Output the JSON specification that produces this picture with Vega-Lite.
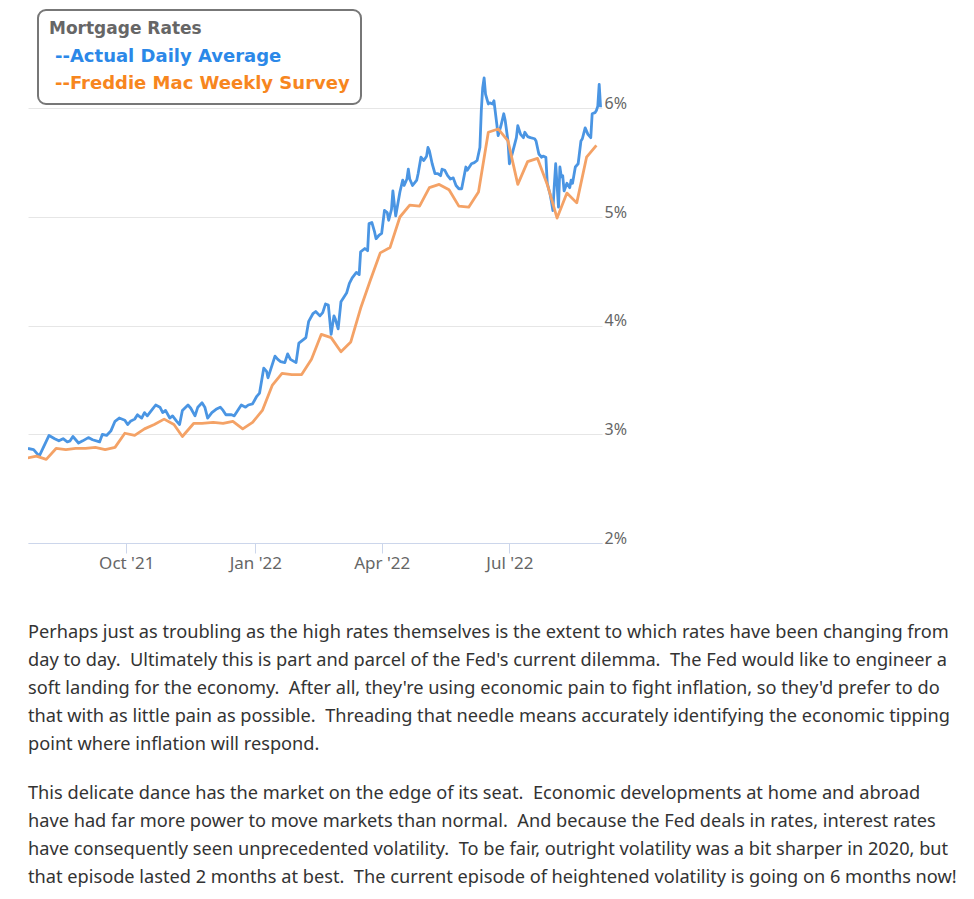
{
  "$schema": "https://vega.github.io/schema/vega-lite/v6.json",
  "autosize": "none",
  "width": 574,
  "height": 489,
  "padding": {"left": 28, "top": 54, "right": 372, "bottom": 356},
  "background": "white",
  "config": {"view": {"stroke": null}},
  "title": {
    "text": [
      "Perhaps just as troubling as the high rates themselves is the extent to which rates have been changing from",
      "day to day. \u00a0Ultimately this is part and parcel of the Fed's current dilemma. \u00a0The Fed would like to engineer a",
      "soft landing for the economy. \u00a0After all, they're using economic pain to fight inflation, so they'd prefer to do",
      "that with as little pain as possible. \u00a0Threading that needle means accurately identifying the economic tipping",
      "point where inflation will respond."
    ],
    "subtitle": [
      "This delicate dance has the market on the edge of its seat. \u00a0Economic developments at home and abroad",
      "have had far more power to move markets than normal. \u00a0And because the Fed deals in rates, interest rates",
      "have consequently seen unprecedented volatility. \u00a0To be fair, outright volatility was a bit sharper in 2020, but",
      "that episode lasted 2 months at best. \u00a0The current episode of heightened volatility is going on 6 months now!"
    ],
    "orient": "bottom",
    "anchor": "start",
    "frame": "group",
    "offset": 53,
    "font": "Noto Sans",
    "fontSize": 18.2,
    "fontWeight": "normal",
    "color": "#333333",
    "lineHeight": 28,
    "subtitleFont": "Noto Sans",
    "subtitleFontSize": 18.2,
    "subtitleColor": "#333333",
    "subtitleLineHeight": 28,
    "subtitlePadding": 31
  },
  "data": {"values": [
    {"date": "2021-07-23", "series": "Actual Daily Average", "rate": 2.87},
    {"date": "2021-07-27", "series": "Actual Daily Average", "rate": 2.86},
    {"date": "2021-07-31", "series": "Actual Daily Average", "rate": 2.80},
    {"date": "2021-08-07", "series": "Actual Daily Average", "rate": 2.99},
    {"date": "2021-08-11", "series": "Actual Daily Average", "rate": 2.96},
    {"date": "2021-08-14", "series": "Actual Daily Average", "rate": 2.94},
    {"date": "2021-08-17", "series": "Actual Daily Average", "rate": 2.96},
    {"date": "2021-08-20", "series": "Actual Daily Average", "rate": 2.93},
    {"date": "2021-08-22", "series": "Actual Daily Average", "rate": 2.94},
    {"date": "2021-08-24", "series": "Actual Daily Average", "rate": 2.98},
    {"date": "2021-08-28", "series": "Actual Daily Average", "rate": 2.92},
    {"date": "2021-08-31", "series": "Actual Daily Average", "rate": 2.94},
    {"date": "2021-09-04", "series": "Actual Daily Average", "rate": 2.97},
    {"date": "2021-09-07", "series": "Actual Daily Average", "rate": 2.95},
    {"date": "2021-09-12", "series": "Actual Daily Average", "rate": 2.93},
    {"date": "2021-09-14", "series": "Actual Daily Average", "rate": 3.00},
    {"date": "2021-09-17", "series": "Actual Daily Average", "rate": 2.99},
    {"date": "2021-09-20", "series": "Actual Daily Average", "rate": 3.03},
    {"date": "2021-09-23", "series": "Actual Daily Average", "rate": 3.12},
    {"date": "2021-09-26", "series": "Actual Daily Average", "rate": 3.15},
    {"date": "2021-09-30", "series": "Actual Daily Average", "rate": 3.13},
    {"date": "2021-10-02", "series": "Actual Daily Average", "rate": 3.09},
    {"date": "2021-10-04", "series": "Actual Daily Average", "rate": 3.12},
    {"date": "2021-10-07", "series": "Actual Daily Average", "rate": 3.14},
    {"date": "2021-10-09", "series": "Actual Daily Average", "rate": 3.18},
    {"date": "2021-10-12", "series": "Actual Daily Average", "rate": 3.15},
    {"date": "2021-10-14", "series": "Actual Daily Average", "rate": 3.20},
    {"date": "2021-10-16", "series": "Actual Daily Average", "rate": 3.17},
    {"date": "2021-10-19", "series": "Actual Daily Average", "rate": 3.22},
    {"date": "2021-10-22", "series": "Actual Daily Average", "rate": 3.27},
    {"date": "2021-10-25", "series": "Actual Daily Average", "rate": 3.25},
    {"date": "2021-10-27", "series": "Actual Daily Average", "rate": 3.20},
    {"date": "2021-10-29", "series": "Actual Daily Average", "rate": 3.22},
    {"date": "2021-11-01", "series": "Actual Daily Average", "rate": 3.15},
    {"date": "2021-11-03", "series": "Actual Daily Average", "rate": 3.17},
    {"date": "2021-11-06", "series": "Actual Daily Average", "rate": 3.12},
    {"date": "2021-11-08", "series": "Actual Daily Average", "rate": 3.09},
    {"date": "2021-11-10", "series": "Actual Daily Average", "rate": 3.22},
    {"date": "2021-11-14", "series": "Actual Daily Average", "rate": 3.27},
    {"date": "2021-11-16", "series": "Actual Daily Average", "rate": 3.24},
    {"date": "2021-11-19", "series": "Actual Daily Average", "rate": 3.17},
    {"date": "2021-11-21", "series": "Actual Daily Average", "rate": 3.25},
    {"date": "2021-11-24", "series": "Actual Daily Average", "rate": 3.29},
    {"date": "2021-11-26", "series": "Actual Daily Average", "rate": 3.25},
    {"date": "2021-11-28", "series": "Actual Daily Average", "rate": 3.15},
    {"date": "2021-12-01", "series": "Actual Daily Average", "rate": 3.20},
    {"date": "2021-12-04", "series": "Actual Daily Average", "rate": 3.23},
    {"date": "2021-12-07", "series": "Actual Daily Average", "rate": 3.25},
    {"date": "2021-12-09", "series": "Actual Daily Average", "rate": 3.22},
    {"date": "2021-12-11", "series": "Actual Daily Average", "rate": 3.18},
    {"date": "2021-12-15", "series": "Actual Daily Average", "rate": 3.18},
    {"date": "2021-12-17", "series": "Actual Daily Average", "rate": 3.17},
    {"date": "2021-12-20", "series": "Actual Daily Average", "rate": 3.23},
    {"date": "2021-12-22", "series": "Actual Daily Average", "rate": 3.27},
    {"date": "2021-12-25", "series": "Actual Daily Average", "rate": 3.25},
    {"date": "2021-12-27", "series": "Actual Daily Average", "rate": 3.27},
    {"date": "2021-12-30", "series": "Actual Daily Average", "rate": 3.28},
    {"date": "2022-01-02", "series": "Actual Daily Average", "rate": 3.35},
    {"date": "2022-01-04", "series": "Actual Daily Average", "rate": 3.38},
    {"date": "2022-01-07", "series": "Actual Daily Average", "rate": 3.61},
    {"date": "2022-01-09", "series": "Actual Daily Average", "rate": 3.58},
    {"date": "2022-01-10", "series": "Actual Daily Average", "rate": 3.52},
    {"date": "2022-01-12", "series": "Actual Daily Average", "rate": 3.60},
    {"date": "2022-01-15", "series": "Actual Daily Average", "rate": 3.72},
    {"date": "2022-01-17", "series": "Actual Daily Average", "rate": 3.69},
    {"date": "2022-01-19", "series": "Actual Daily Average", "rate": 3.67},
    {"date": "2022-01-22", "series": "Actual Daily Average", "rate": 3.66},
    {"date": "2022-01-24", "series": "Actual Daily Average", "rate": 3.74},
    {"date": "2022-01-26", "series": "Actual Daily Average", "rate": 3.69},
    {"date": "2022-01-30", "series": "Actual Daily Average", "rate": 3.66},
    {"date": "2022-02-01", "series": "Actual Daily Average", "rate": 3.84},
    {"date": "2022-02-04", "series": "Actual Daily Average", "rate": 3.87},
    {"date": "2022-02-06", "series": "Actual Daily Average", "rate": 3.89},
    {"date": "2022-02-08", "series": "Actual Daily Average", "rate": 4.04},
    {"date": "2022-02-11", "series": "Actual Daily Average", "rate": 4.11},
    {"date": "2022-02-13", "series": "Actual Daily Average", "rate": 4.13},
    {"date": "2022-02-16", "series": "Actual Daily Average", "rate": 4.09},
    {"date": "2022-02-18", "series": "Actual Daily Average", "rate": 4.12},
    {"date": "2022-02-20", "series": "Actual Daily Average", "rate": 4.20},
    {"date": "2022-02-22", "series": "Actual Daily Average", "rate": 4.19},
    {"date": "2022-02-24", "series": "Actual Daily Average", "rate": 3.92},
    {"date": "2022-02-26", "series": "Actual Daily Average", "rate": 4.09},
    {"date": "2022-02-27", "series": "Actual Daily Average", "rate": 4.06},
    {"date": "2022-03-01", "series": "Actual Daily Average", "rate": 3.97},
    {"date": "2022-03-03", "series": "Actual Daily Average", "rate": 4.22},
    {"date": "2022-03-07", "series": "Actual Daily Average", "rate": 4.30},
    {"date": "2022-03-09", "series": "Actual Daily Average", "rate": 4.39},
    {"date": "2022-03-11", "series": "Actual Daily Average", "rate": 4.44},
    {"date": "2022-03-14", "series": "Actual Daily Average", "rate": 4.49},
    {"date": "2022-03-16", "series": "Actual Daily Average", "rate": 4.47},
    {"date": "2022-03-17", "series": "Actual Daily Average", "rate": 4.68},
    {"date": "2022-03-20", "series": "Actual Daily Average", "rate": 4.71},
    {"date": "2022-03-22", "series": "Actual Daily Average", "rate": 4.69},
    {"date": "2022-03-23", "series": "Actual Daily Average", "rate": 4.94},
    {"date": "2022-03-25", "series": "Actual Daily Average", "rate": 4.95},
    {"date": "2022-03-27", "series": "Actual Daily Average", "rate": 4.86},
    {"date": "2022-03-28", "series": "Actual Daily Average", "rate": 4.80},
    {"date": "2022-03-30", "series": "Actual Daily Average", "rate": 4.83},
    {"date": "2022-04-01", "series": "Actual Daily Average", "rate": 4.85},
    {"date": "2022-04-03", "series": "Actual Daily Average", "rate": 5.06},
    {"date": "2022-04-05", "series": "Actual Daily Average", "rate": 5.04},
    {"date": "2022-04-06", "series": "Actual Daily Average", "rate": 4.97},
    {"date": "2022-04-08", "series": "Actual Daily Average", "rate": 5.07},
    {"date": "2022-04-09", "series": "Actual Daily Average", "rate": 5.24},
    {"date": "2022-04-10", "series": "Actual Daily Average", "rate": 5.12},
    {"date": "2022-04-11", "series": "Actual Daily Average", "rate": 5.01},
    {"date": "2022-04-14", "series": "Actual Daily Average", "rate": 5.23},
    {"date": "2022-04-16", "series": "Actual Daily Average", "rate": 5.34},
    {"date": "2022-04-17", "series": "Actual Daily Average", "rate": 5.29},
    {"date": "2022-04-19", "series": "Actual Daily Average", "rate": 5.35},
    {"date": "2022-04-20", "series": "Actual Daily Average", "rate": 5.44},
    {"date": "2022-04-21", "series": "Actual Daily Average", "rate": 5.35},
    {"date": "2022-04-23", "series": "Actual Daily Average", "rate": 5.29},
    {"date": "2022-04-26", "series": "Actual Daily Average", "rate": 5.34},
    {"date": "2022-04-27", "series": "Actual Daily Average", "rate": 5.40},
    {"date": "2022-04-29", "series": "Actual Daily Average", "rate": 5.55},
    {"date": "2022-05-01", "series": "Actual Daily Average", "rate": 5.52},
    {"date": "2022-05-03", "series": "Actual Daily Average", "rate": 5.56},
    {"date": "2022-05-04", "series": "Actual Daily Average", "rate": 5.64},
    {"date": "2022-05-05", "series": "Actual Daily Average", "rate": 5.61},
    {"date": "2022-05-07", "series": "Actual Daily Average", "rate": 5.49},
    {"date": "2022-05-09", "series": "Actual Daily Average", "rate": 5.40},
    {"date": "2022-05-11", "series": "Actual Daily Average", "rate": 5.40},
    {"date": "2022-05-13", "series": "Actual Daily Average", "rate": 5.38},
    {"date": "2022-05-14", "series": "Actual Daily Average", "rate": 5.44},
    {"date": "2022-05-16", "series": "Actual Daily Average", "rate": 5.43},
    {"date": "2022-05-18", "series": "Actual Daily Average", "rate": 5.38},
    {"date": "2022-05-20", "series": "Actual Daily Average", "rate": 5.35},
    {"date": "2022-05-22", "series": "Actual Daily Average", "rate": 5.36},
    {"date": "2022-05-24", "series": "Actual Daily Average", "rate": 5.29},
    {"date": "2022-05-26", "series": "Actual Daily Average", "rate": 5.26},
    {"date": "2022-05-28", "series": "Actual Daily Average", "rate": 5.26},
    {"date": "2022-05-31", "series": "Actual Daily Average", "rate": 5.46},
    {"date": "2022-06-01", "series": "Actual Daily Average", "rate": 5.43},
    {"date": "2022-06-04", "series": "Actual Daily Average", "rate": 5.49},
    {"date": "2022-06-06", "series": "Actual Daily Average", "rate": 5.50},
    {"date": "2022-06-08", "series": "Actual Daily Average", "rate": 5.52},
    {"date": "2022-06-10", "series": "Actual Daily Average", "rate": 5.64},
    {"date": "2022-06-11", "series": "Actual Daily Average", "rate": 5.98},
    {"date": "2022-06-12", "series": "Actual Daily Average", "rate": 6.19},
    {"date": "2022-06-13", "series": "Actual Daily Average", "rate": 6.28},
    {"date": "2022-06-14", "series": "Actual Daily Average", "rate": 6.13},
    {"date": "2022-06-16", "series": "Actual Daily Average", "rate": 6.04},
    {"date": "2022-06-17", "series": "Actual Daily Average", "rate": 6.05},
    {"date": "2022-06-19", "series": "Actual Daily Average", "rate": 6.04},
    {"date": "2022-06-20", "series": "Actual Daily Average", "rate": 6.07},
    {"date": "2022-06-22", "series": "Actual Daily Average", "rate": 5.86},
    {"date": "2022-06-23", "series": "Actual Daily Average", "rate": 5.75},
    {"date": "2022-06-25", "series": "Actual Daily Average", "rate": 5.84},
    {"date": "2022-06-27", "series": "Actual Daily Average", "rate": 5.95},
    {"date": "2022-06-28", "series": "Actual Daily Average", "rate": 5.89},
    {"date": "2022-06-30", "series": "Actual Daily Average", "rate": 5.70},
    {"date": "2022-07-01", "series": "Actual Daily Average", "rate": 5.49},
    {"date": "2022-07-03", "series": "Actual Daily Average", "rate": 5.58},
    {"date": "2022-07-06", "series": "Actual Daily Average", "rate": 5.73},
    {"date": "2022-07-07", "series": "Actual Daily Average", "rate": 5.84},
    {"date": "2022-07-09", "series": "Actual Daily Average", "rate": 5.76},
    {"date": "2022-07-11", "series": "Actual Daily Average", "rate": 5.73},
    {"date": "2022-07-12", "series": "Actual Daily Average", "rate": 5.78},
    {"date": "2022-07-14", "series": "Actual Daily Average", "rate": 5.74},
    {"date": "2022-07-16", "series": "Actual Daily Average", "rate": 5.73},
    {"date": "2022-07-19", "series": "Actual Daily Average", "rate": 5.72},
    {"date": "2022-07-20", "series": "Actual Daily Average", "rate": 5.70},
    {"date": "2022-07-22", "series": "Actual Daily Average", "rate": 5.58},
    {"date": "2022-07-24", "series": "Actual Daily Average", "rate": 5.55},
    {"date": "2022-07-25", "series": "Actual Daily Average", "rate": 5.56},
    {"date": "2022-07-27", "series": "Actual Daily Average", "rate": 5.55},
    {"date": "2022-07-28", "series": "Actual Daily Average", "rate": 5.31},
    {"date": "2022-07-30", "series": "Actual Daily Average", "rate": 5.21},
    {"date": "2022-07-31", "series": "Actual Daily Average", "rate": 5.14},
    {"date": "2022-08-01", "series": "Actual Daily Average", "rate": 5.06},
    {"date": "2022-08-02", "series": "Actual Daily Average", "rate": 5.29},
    {"date": "2022-08-03", "series": "Actual Daily Average", "rate": 5.49},
    {"date": "2022-08-05", "series": "Actual Daily Average", "rate": 5.09},
    {"date": "2022-08-06", "series": "Actual Daily Average", "rate": 5.46},
    {"date": "2022-08-07", "series": "Actual Daily Average", "rate": 5.37},
    {"date": "2022-08-08", "series": "Actual Daily Average", "rate": 5.38},
    {"date": "2022-08-09", "series": "Actual Daily Average", "rate": 5.24},
    {"date": "2022-08-11", "series": "Actual Daily Average", "rate": 5.31},
    {"date": "2022-08-13", "series": "Actual Daily Average", "rate": 5.27},
    {"date": "2022-08-14", "series": "Actual Daily Average", "rate": 5.34},
    {"date": "2022-08-15", "series": "Actual Daily Average", "rate": 5.31},
    {"date": "2022-08-17", "series": "Actual Daily Average", "rate": 5.46},
    {"date": "2022-08-19", "series": "Actual Daily Average", "rate": 5.49},
    {"date": "2022-08-21", "series": "Actual Daily Average", "rate": 5.70},
    {"date": "2022-08-22", "series": "Actual Daily Average", "rate": 5.72},
    {"date": "2022-08-24", "series": "Actual Daily Average", "rate": 5.82},
    {"date": "2022-08-26", "series": "Actual Daily Average", "rate": 5.76},
    {"date": "2022-08-28", "series": "Actual Daily Average", "rate": 5.73},
    {"date": "2022-08-29", "series": "Actual Daily Average", "rate": 5.95},
    {"date": "2022-08-31", "series": "Actual Daily Average", "rate": 5.96},
    {"date": "2022-09-01", "series": "Actual Daily Average", "rate": 5.98},
    {"date": "2022-09-02", "series": "Actual Daily Average", "rate": 6.02},
    {"date": "2022-09-03", "series": "Actual Daily Average", "rate": 6.22},
    {"date": "2022-09-04", "series": "Actual Daily Average", "rate": 6.01},
    {"date": "2021-07-22", "series": "Freddie Mac Weekly Survey", "rate": 2.78},
    {"date": "2021-07-29", "series": "Freddie Mac Weekly Survey", "rate": 2.80},
    {"date": "2021-08-05", "series": "Freddie Mac Weekly Survey", "rate": 2.77},
    {"date": "2021-08-12", "series": "Freddie Mac Weekly Survey", "rate": 2.87},
    {"date": "2021-08-19", "series": "Freddie Mac Weekly Survey", "rate": 2.86},
    {"date": "2021-08-26", "series": "Freddie Mac Weekly Survey", "rate": 2.87},
    {"date": "2021-09-02", "series": "Freddie Mac Weekly Survey", "rate": 2.87},
    {"date": "2021-09-09", "series": "Freddie Mac Weekly Survey", "rate": 2.88},
    {"date": "2021-09-16", "series": "Freddie Mac Weekly Survey", "rate": 2.86},
    {"date": "2021-09-23", "series": "Freddie Mac Weekly Survey", "rate": 2.88},
    {"date": "2021-09-30", "series": "Freddie Mac Weekly Survey", "rate": 3.01},
    {"date": "2021-10-07", "series": "Freddie Mac Weekly Survey", "rate": 2.99},
    {"date": "2021-10-14", "series": "Freddie Mac Weekly Survey", "rate": 3.05},
    {"date": "2021-10-21", "series": "Freddie Mac Weekly Survey", "rate": 3.09},
    {"date": "2021-10-28", "series": "Freddie Mac Weekly Survey", "rate": 3.14},
    {"date": "2021-11-04", "series": "Freddie Mac Weekly Survey", "rate": 3.09},
    {"date": "2021-11-10", "series": "Freddie Mac Weekly Survey", "rate": 2.98},
    {"date": "2021-11-18", "series": "Freddie Mac Weekly Survey", "rate": 3.10},
    {"date": "2021-11-24", "series": "Freddie Mac Weekly Survey", "rate": 3.10},
    {"date": "2021-12-02", "series": "Freddie Mac Weekly Survey", "rate": 3.11},
    {"date": "2021-12-09", "series": "Freddie Mac Weekly Survey", "rate": 3.10},
    {"date": "2021-12-16", "series": "Freddie Mac Weekly Survey", "rate": 3.12},
    {"date": "2021-12-23", "series": "Freddie Mac Weekly Survey", "rate": 3.05},
    {"date": "2021-12-30", "series": "Freddie Mac Weekly Survey", "rate": 3.11},
    {"date": "2022-01-06", "series": "Freddie Mac Weekly Survey", "rate": 3.22},
    {"date": "2022-01-13", "series": "Freddie Mac Weekly Survey", "rate": 3.45},
    {"date": "2022-01-20", "series": "Freddie Mac Weekly Survey", "rate": 3.56},
    {"date": "2022-01-27", "series": "Freddie Mac Weekly Survey", "rate": 3.55},
    {"date": "2022-02-03", "series": "Freddie Mac Weekly Survey", "rate": 3.55},
    {"date": "2022-02-10", "series": "Freddie Mac Weekly Survey", "rate": 3.69},
    {"date": "2022-02-17", "series": "Freddie Mac Weekly Survey", "rate": 3.92},
    {"date": "2022-02-24", "series": "Freddie Mac Weekly Survey", "rate": 3.89},
    {"date": "2022-03-03", "series": "Freddie Mac Weekly Survey", "rate": 3.76},
    {"date": "2022-03-10", "series": "Freddie Mac Weekly Survey", "rate": 3.85},
    {"date": "2022-03-17", "series": "Freddie Mac Weekly Survey", "rate": 4.16},
    {"date": "2022-03-24", "series": "Freddie Mac Weekly Survey", "rate": 4.42},
    {"date": "2022-03-31", "series": "Freddie Mac Weekly Survey", "rate": 4.67},
    {"date": "2022-04-07", "series": "Freddie Mac Weekly Survey", "rate": 4.72},
    {"date": "2022-04-14", "series": "Freddie Mac Weekly Survey", "rate": 5.00},
    {"date": "2022-04-21", "series": "Freddie Mac Weekly Survey", "rate": 5.11},
    {"date": "2022-04-28", "series": "Freddie Mac Weekly Survey", "rate": 5.10},
    {"date": "2022-05-05", "series": "Freddie Mac Weekly Survey", "rate": 5.27},
    {"date": "2022-05-12", "series": "Freddie Mac Weekly Survey", "rate": 5.30},
    {"date": "2022-05-19", "series": "Freddie Mac Weekly Survey", "rate": 5.25},
    {"date": "2022-05-26", "series": "Freddie Mac Weekly Survey", "rate": 5.10},
    {"date": "2022-06-02", "series": "Freddie Mac Weekly Survey", "rate": 5.09},
    {"date": "2022-06-09", "series": "Freddie Mac Weekly Survey", "rate": 5.23},
    {"date": "2022-06-16", "series": "Freddie Mac Weekly Survey", "rate": 5.78},
    {"date": "2022-06-23", "series": "Freddie Mac Weekly Survey", "rate": 5.81},
    {"date": "2022-06-30", "series": "Freddie Mac Weekly Survey", "rate": 5.70},
    {"date": "2022-07-07", "series": "Freddie Mac Weekly Survey", "rate": 5.30},
    {"date": "2022-07-14", "series": "Freddie Mac Weekly Survey", "rate": 5.51},
    {"date": "2022-07-21", "series": "Freddie Mac Weekly Survey", "rate": 5.54},
    {"date": "2022-07-28", "series": "Freddie Mac Weekly Survey", "rate": 5.30},
    {"date": "2022-08-04", "series": "Freddie Mac Weekly Survey", "rate": 4.99},
    {"date": "2022-08-11", "series": "Freddie Mac Weekly Survey", "rate": 5.22},
    {"date": "2022-08-18", "series": "Freddie Mac Weekly Survey", "rate": 5.13},
    {"date": "2022-08-25", "series": "Freddie Mac Weekly Survey", "rate": 5.55},
    {"date": "2022-09-01", "series": "Freddie Mac Weekly Survey", "rate": 5.66}
  ]},
  "mark": {"type": "line", "strokeWidth": 2.8, "strokeJoin": "round", "clip": true},
  "encoding": {
    "x": {
      "field": "date",
      "type": "temporal",
      "scale": {"type": "utc", "domain": [{"year": 2021, "month": 7, "date": 23, "utc": true}, {"year": 2022, "month": 9, "date": 5, "utc": true}]},
      "axis": {
        "title": null,
        "values": [
          {"year": 2021, "month": 10, "date": 1, "utc": true},
          {"year": 2022, "month": 1, "date": 1, "utc": true},
          {"year": 2022, "month": 4, "date": 1, "utc": true},
          {"year": 2022, "month": 7, "date": 1, "utc": true}
        ],
        "labelExpr": "utcFormat(datum.value, \"%b '%y\")",
        "grid": false,
        "domainColor": "#ccd6eb",
        "tickColor": "#ccd6eb",
        "tickSize": 10,
        "labelFont": "Noto Sans",
        "labelFontSize": 17,
        "labelColor": "#666666",
        "labelPadding": 2,
        "zindex": 1
      }
    },
    "y": {
      "field": "rate",
      "type": "quantitative",
      "scale": {"domain": [2, 6.5], "nice": false, "zero": false},
      "axis": {
        "title": null,
        "orient": "right",
        "values": [2, 3, 4, 5, 6],
        "labelExpr": "datum.value + '%'",
        "grid": true,
        "gridColor": "#e6e6e6",
        "domain": false,
        "ticks": false,
        "labelAlign": "left",
        "labelBaseline": "alphabetic",
        "labelPadding": 2,
        "labelFont": "Noto Sans",
        "labelFontSize": 16,
        "labelColor": "#666666"
      }
    },
    "color": {
      "field": "series",
      "type": "nominal",
      "scale": {"domain": ["Actual Daily Average", "Freddie Mac Weekly Survey"], "range": ["#4a95e3", "#f4a266"]},
      "legend": {
        "title": "Mortgage Rates",
        "orient": "none",
        "legendX": 10,
        "legendY": -44,
        "direction": "vertical",
        "titleFont": "DejaVu Sans",
        "titleFontSize": 17,
        "titleFontWeight": "bold",
        "titleColor": "#666666",
        "titlePadding": 10,
        "labelFont": "DejaVu Sans",
        "labelFontSize": 18,
        "labelFontWeight": "bold",
        "labelExpr": "'--' + datum.label",
        "labelLimit": 400,
        "labelOffset": -12,
        "symbolOpacity": 0,
        "symbolSize": 1,
        "symbolStrokeWidth": 0,
        "rowPadding": 9,
        "padding": 11,
        "strokeColor": "#777777",
        "cornerRadius": 8,
        "fillColor": "white",
        "encode": {
          "legend": {"update": {"strokeWidth": {"value": 2}}},
          "labels": {"update": {"fill": {"signal": "datum.value === 'Actual Daily Average' ? '#2b88e8' : '#f7861e'"}}}
        }
      }
    }
  }
}
